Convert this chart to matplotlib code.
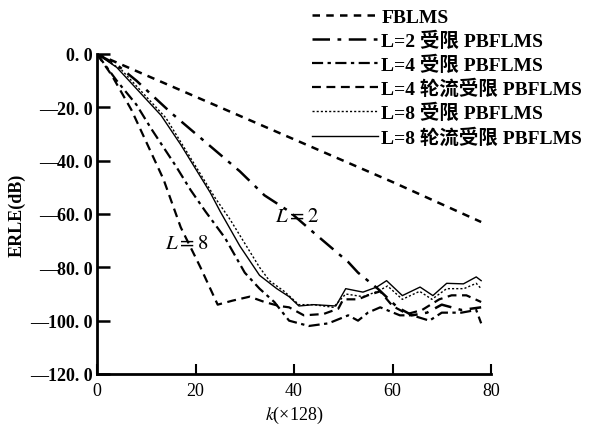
import matplotlib.pyplot as plt

plt.rcParams['font.family'] = ['Liberation Serif', 'Noto Sans CJK SC']
plt.rcParams['mathtext.fontset'] = 'stix'

# FBLMS
k_fb = [0, 20, 40, 60, 78]
e_fb = [0, -16, -32, -48, -63]

# L=2 受限
k_l2 = [0, 4, 8, 15, 22, 29, 34, 39, 44, 51, 53, 57, 61, 64, 67, 70, 74, 78]
e_l2 = [0, -4, -10, -22, -33, -44, -53, -59, -67, -78, -82, -88, -95, -98, -97, -94, -96, -95]

# L=4 受限 (dash-dot)
k_a = [0, 4, 8, 11, 16, 19, 22, 26, 30, 33, 36, 39, 43, 47, 51, 53, 55, 57.5, 61.5, 64, 67.5, 70, 74, 77, 78]
e_a = [0, -10, -19, -28, -42, -51, -59, -69, -82, -88, -93, -100, -102, -101, -98, -100, -97, -95, -98, -98, -100, -97, -97, -96, -101]

# L=4 轮流受限 (dashed, steepest)
k_b = [0, 3, 7, 10, 13.5, 17, 21, 24.5, 27.5, 31, 34, 37, 39, 42, 46, 49, 50, 53, 55, 57.5, 60, 63, 66, 69.5, 72, 75, 78]
e_b = [0, -8, -21, -33, -47, -65, -80, -94, -92.5, -91, -93, -94.5, -95, -98, -97.5, -95.5, -92, -92, -90.5, -89, -94.5, -97.5, -96, -92, -90.5, -90.5, -93]

# L=8 受限 (dotted)
k_d = [0, 5, 9, 14, 18, 21, 24, 27, 30, 33, 35, 38, 41, 44, 48, 50.5, 54, 57, 59, 62, 65.5, 68, 71, 74.5, 77, 78]
e_d = [0, -6, -14, -24, -36, -45, -54, -62, -71, -80, -85, -89, -94, -94, -95, -90, -91, -89, -87, -92, -89, -92, -88, -88, -86, -88]

# L=8 轮流受限 (solid)
k_c = [0, 4, 8, 13, 17, 20, 23, 25, 29, 33, 36.5, 39, 41, 44, 48.5, 50.5, 54, 56.8, 58.8, 62, 65.6, 68.2, 71, 74.4, 77, 78]
e_c = [0, -5, -13, -23, -34, -43, -52, -59, -72, -83, -88, -91, -94.5, -94, -94.5, -88, -89.3, -87.4, -85, -90.6, -87.4, -90.6, -86, -86.2, -83.6, -85]

ytick_lbl = ['0. 0', '—20. 0', '—40. 0', '—60. 0', '—80. 0', '—100. 0', '—120. 0']
xtick_lbl = ['0', '20', '40', '60', '80']

fig = plt.figure(figsize=(5.93, 4.27), dpi=100)
ax = fig.add_axes([0.1636, 0.1218, 0.6644, 0.7494])

l_fb, = ax.plot(k_fb, e_fb, color='black', lw=1.8, ls=(0, (3, 2.5)))
l_l2, = ax.plot(k_l2, e_l2, color='black', lw=1.8, ls=(0, (7, 3, 1.5, 3)))
l_a, = ax.plot(k_a, e_a, color='black', lw=1.6, ls=(0, (5, 2, 1.5, 2)))
l_b, = ax.plot(k_b, e_b, color='black', lw=1.6, ls=(0, (4, 2.5)))
l_d, = ax.plot(k_d, e_d, color='black', lw=1.0, ls=(0, (1.5, 1.5)))
l_c, = ax.plot(k_c, e_c, color='black', lw=1.0, ls='-')

ax.text(40.5, -61, r'$L=2$', fontsize=15, ha='center', va='center')
ax.text(18.3, -71, r'$L=8$', fontsize=15, ha='center', va='center')

ax.set_xlim(0, 80)
ax.set_ylim(-120, 0)
ax.set_xticks([0, 20, 40, 60, 80])
ax.set_yticks([0, -20, -40, -60, -80, -100, -120])
ax.set_yticklabels(ytick_lbl, fontweight='bold', fontsize=13)
ax.set_xticklabels(xtick_lbl, fontsize=13)
ax.tick_params(axis='y', direction='in', length=9, width=1.8, pad=3)
ax.tick_params(axis='x', direction='in', length=7, width=1.5, pad=6)
ax.spines['top'].set_visible(False)
ax.spines['right'].set_visible(False)
ax.spines['left'].set_linewidth(2)
ax.spines['bottom'].set_linewidth(2)

ax.set_ylabel('ERLE(dB)', fontweight='bold', fontsize=13, labelpad=3)
ax.set_xlabel(r'$k$(×128)', fontsize=13, labelpad=3)

labels = ['FBLMS', 'L=2 受限 PBFLMS', 'L=4 受限 PBFLMS', 'L=4 轮流受限 PBFLMS',
          'L=8 受限 PBFLMS', 'L=8 轮流受限 PBFLMS']
fig.legend([l_fb, l_l2, l_a, l_b, l_d, l_c], labels,
           loc='upper left', bbox_to_anchor=(0.497, 1.02), frameon=False,
           handlelength=3.4, handletextpad=0.15, labelspacing=0.25,
           prop={'family': ['Liberation Serif', 'Noto Sans CJK SC'], 'weight': 'bold', 'size': 14})

fig.savefig('out.png', dpi=100)
